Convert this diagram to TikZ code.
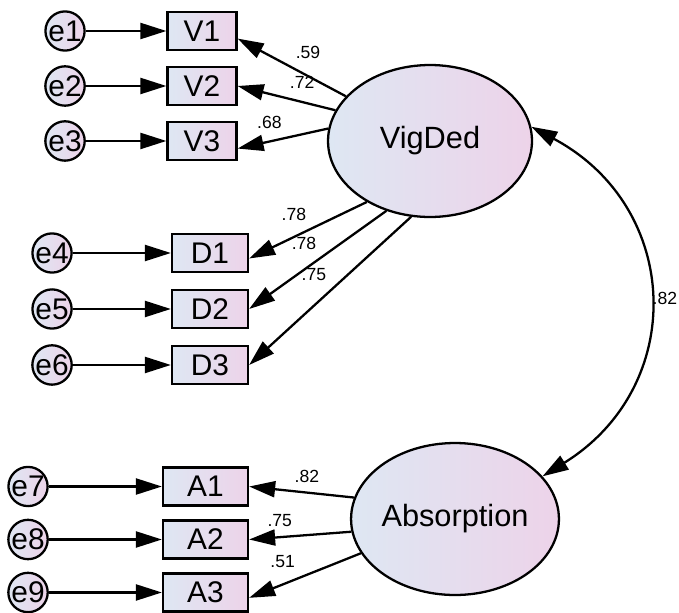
\documentclass[tikz,border=0pt]{standalone}
\usepackage{fontspec}
\setsansfont{Liberation Sans}
\usetikzlibrary{arrows.meta,shapes.geometric}
\definecolor{amosblue}{RGB}{222,231,243}
\definecolor{amospink}{RGB}{237,211,233}

\begin{document}
\begin{tikzpicture}[->,>={Triangle[length=5.2mm,width=3.2mm]},x=0.02cm,y=-0.02cm,
		line width=1.3pt,node distance=1.1cm,
		latent node/.style={ellipse,draw,minimum width=4.08cm,minimum height=3.04cm,inner sep=0pt,
			left color=amosblue,right color=amospink,font=\sffamily\fontsize{17.5}{20}\selectfont},
		item node/.style={rectangle,draw,minimum height=0.76cm,inner sep=0pt,
			left color=amosblue,right color=amospink,font=\sffamily\fontsize{17}{19}\selectfont},
		error node/.style={circle,draw,minimum size=0.78cm,inner sep=0pt,
			left color=amosblue,right color=amospink,font=\sffamily\fontsize{17}{19}\selectfont}]
		\useasboundingbox (0,0) rectangle (679,612);

		% latent factors
		\node[latent node] (VigDed) at (430,141) {VigDed};
		\node[latent node] (Absorption) at (455,519) {Absorption};

		% items
		\node[item node, minimum width=1.38cm] (V1) at (202,31) {V1};
		\node[item node, minimum width=1.38cm] (V2) [below of=V1] {V2};
		\node[item node, minimum width=1.38cm] (V3) [below of=V2] {V3};
		\node[item node, minimum width=1.52cm] (D1) at (210,253) {D1};
		\node[item node, minimum width=1.52cm, node distance=1.12cm] (D2) [below of=D1] {D2};
		\node[item node, minimum width=1.52cm, node distance=1.12cm] (D3) [below of=D2] {D3};
		\node[item node, minimum width=1.7cm] (A1) at (205.5,486.5) {A1};
		\node[item node, minimum width=1.7cm, node distance=1.06cm] (A2) [below of=A1] {A2};
		\node[item node, minimum width=1.7cm, node distance=1.06cm] (A3) [below of=A2] {A3};

		% errors
		\node[error node, node distance=2.74cm] (e1) [left of=V1] {e1};
		\node[error node, node distance=2.74cm] (e2) [left of=V2] {e2};
		\node[error node, node distance=2.74cm] (e3) [left of=V3] {e3};
		\node[error node, node distance=3.16cm] (e4) [left of=D1] {e4};
		\node[error node, node distance=3.16cm] (e5) [left of=D2] {e5};
		\node[error node, node distance=3.16cm] (e6) [left of=D3] {e6};
		\node[error node, node distance=3.55cm] (e7) [left of=A1] {e7};
		\node[error node, node distance=3.55cm] (e8) [left of=A2] {e8};
		\node[error node, node distance=3.55cm] (e9) [left of=A3] {e9};

		\path
		(e1) edge (V1) (e2) edge (V2) (e3) edge (V3)
		(e4) edge (D1) (e5) edge (D2) (e6) edge (D3)
		(e7) edge (A1) (e8) edge (A2) (e9) edge (A3);

		\path[every node/.style={font=\sffamily\fontsize{10}{12}\selectfont,inner sep=1pt}]
		(VigDed.152) edge node[pos=0.35, above=0.30cm] {.59} (V1.-12)
		(VigDed.162) edge node[pos=0.34, above=0.22cm] {.72} (V2.east)
		(VigDed.173) edge node[pos=0.65, above=0.20cm] {.68} (V3.-12)
		(VigDed.224) edge node[pos=0.62, above=0.26cm] {.78} (D1.-8)
		(VigDed.238) edge node[pos=0.60, above=0.34cm] {.78} (D2.east)
		(VigDed.256) edge node[pos=0.60, above=0.44cm] {.75} (D3.east)
		(Absorption.168) edge node[pos=0.45, above=0.15cm] {.82} (A1.east)
		(Absorption.187) edge node[pos=0.70, above=0.16cm] {.75} (A2.east)
		(Absorption.200) edge node[pos=0.70, above=0.28cm] {.51} (A3.-7)
		(VigDed.8) edge[<->, bend left=60, looseness=1.25] node[pos=0.5, right=1pt] {.82} (Absorption.26);
\end{tikzpicture}
\end{document}
